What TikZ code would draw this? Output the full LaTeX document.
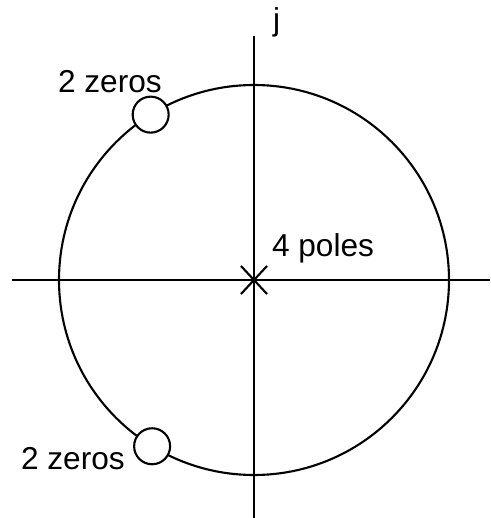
\documentclass[tikz,border=0pt]{standalone}
\usepackage{fontspec}
\setmainfont{Liberation Sans}
\usetikzlibrary{positioning,shapes.misc}

\begin{document}
\begin{tikzpicture}[
    line width=1.2pt,
    font=\fontsize{18}{21}\selectfont,
    zero/.style={circle, draw, fill=white, inner sep=0pt, minimum size=7.2mm},
    pole/.style={cross out, draw, inner sep=0pt, minimum width=4.8mm, minimum height=5.2mm},
    lbl/.style={anchor=base west, inner sep=0pt}
  ]
  \useasboundingbox (-5.08,-4.76) rectangle (4.72,5.6);

  % assi
  \coordinate (o) at (0,0);
  \coordinate (xl) at (-4.84,0);
  \coordinate (xr) at (4.72,0);
  \coordinate (yt) at (0,4.88);
  \coordinate (yb) at (0,-4.76);
  \draw (xl) -- (xr);
  \draw (yt) -- (yb);
  \node[lbl] (j) at (0.36,4.98) {j};

  % cerchio unitario
  \draw (o) circle (3.9);

  % zeri
  \node[zero] (z1) at (122:3.9) {};
  \node[zero] (z2) at (238.5:3.9) {};
  \node[lbl] (z1lbl) at (-3.94,3.74) {2 zeros};
  \node[lbl] (z2lbl) at (-4.68,-3.78) {2 zeros};

  % poli
  \node[pole] (p) at (o) {};
  \node[lbl] (plbl) at (0.34,0.48) {4 poles};

\end{tikzpicture}
\end{document}
